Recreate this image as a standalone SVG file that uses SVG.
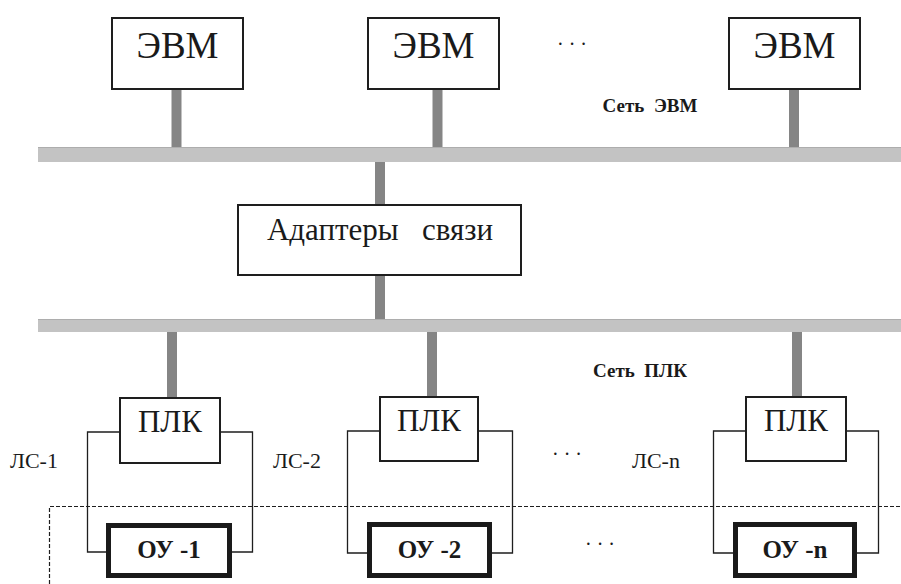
<svg xmlns="http://www.w3.org/2000/svg" width="901" height="584" viewBox="0 0 901 584">
<style>
.box{fill:#fff;stroke:#1e1e1e;stroke-width:2}
.obj{fill:#fff;stroke:#1a1a1a;stroke-width:5}
.bus{fill:#c3c3c3}
.busedge{stroke:#adadad;stroke-width:1}
.stub{stroke:#858585;stroke-width:10}
.wire{fill:none;stroke:#1e1e1e;stroke-width:1.3}
.dash{fill:none;stroke:#1e1e1e;stroke-width:1.2;stroke-dasharray:4 2}
text{fill:#1a1a1a}
.big{font-size:37px}
.mid{font-size:31px}
.lab{font-size:22px}
.bold{font-weight:bold}
.net{font-weight:bold;font-size:19px}
.dots{font-size:20px}
</style>
<g id="buses">
<rect class="bus" x="38" y="147" width="863" height="15"/>
<line class="busedge" x1="38" y1="147.5" x2="901" y2="147.5"/>
<rect class="bus" x="38" y="319" width="863" height="13"/>
<line class="busedge" x1="38" y1="319.5" x2="901" y2="319.5"/>
</g>
<g id="connectors">
<line class="stub" x1="176.5" y1="89" x2="176.5" y2="147"/>
<line class="stub" x1="437.5" y1="89" x2="437.5" y2="147"/>
<line class="stub" x1="794" y1="89" x2="794" y2="147"/>
<line class="stub" x1="380" y1="162" x2="380" y2="205"/>
<line class="stub" x1="380" y1="275" x2="380" y2="319"/>
<line class="stub" x1="172" y1="332" x2="172" y2="398"/>
<line class="stub" x1="432" y1="332" x2="432" y2="397"/>
<line class="stub" x1="797" y1="332" x2="797" y2="397"/>
<polyline class="wire" points="120,432 87.5,432 87.5,552 108,552"/>
<polyline class="wire" points="220,432 252.5,432 252.5,552 230,552"/>
<polyline class="wire" points="380,431 347.5,431 347.5,553 368,553"/>
<polyline class="wire" points="478,431 512.5,431 512.5,553 490,553"/>
<polyline class="wire" points="746,431 713.5,431 713.5,553 734,553"/>
<polyline class="wire" points="846,431 878.5,431 878.5,553 855,553"/>
</g>
<g id="boundary">
<polyline class="dash" points="49.5,584 49.5,506.5 901,506.5"/>
</g>
<g font-family="Liberation Serif, serif">
<g id="evm1"><rect class="box" x="112" y="18" width="131" height="71"/><text class="big" x="177.5" y="58" text-anchor="middle">ЭВМ</text></g>
<g id="evm2"><rect class="box" x="368" y="18" width="131" height="71"/><text class="big" x="433.5" y="58" text-anchor="middle">ЭВМ</text></g>
<g id="evm3"><rect class="box" x="729" y="18" width="131" height="71"/><text class="big" x="794.5" y="58" text-anchor="middle">ЭВМ</text></g>
<text class="dots" x="572" y="51" text-anchor="middle">· · ·</text>
<text class="net" x="650" y="112" text-anchor="middle" xml:space="preserve">Сеть  ЭВМ</text>
<g id="adapter"><rect class="box" x="238" y="205" width="283" height="70"/><text class="mid" x="380" y="240" text-anchor="middle" xml:space="preserve">Адаптеры   связи</text></g>
<text class="net" x="640" y="377" text-anchor="middle" xml:space="preserve">Сеть  ПЛК</text>
<g id="plc1"><rect class="box" x="120" y="398" width="100" height="65"/><text class="mid" x="170" y="432" text-anchor="middle">ПЛК</text></g>
<g id="plc2"><rect class="box" x="380" y="397" width="98" height="64"/><text class="mid" x="429" y="431" text-anchor="middle">ПЛК</text></g>
<g id="plc3"><rect class="box" x="746" y="397" width="100" height="64"/><text class="mid" x="796" y="431" text-anchor="middle">ПЛК</text></g>
<text class="lab" x="10" y="468">ЛС-1</text>
<text class="lab" x="273" y="468">ЛС-2</text>
<text class="lab" x="632" y="468">ЛС-n</text>
<text class="dots" x="567" y="461" text-anchor="middle">· · ·</text>
<text class="dots" x="600" y="551" text-anchor="middle">· · ·</text>
<g id="ou1"><rect class="obj" x="108.5" y="525.5" width="121" height="50"/><text class="bold" x="169" y="558" font-size="25" text-anchor="middle">ОУ -1</text></g>
<g id="ou2"><rect class="obj" x="369.5" y="524.5" width="120" height="51"/><text class="bold" x="429.5" y="558" font-size="25" text-anchor="middle">ОУ -2</text></g>
<g id="ouN"><rect class="obj" x="735.5" y="524.5" width="119" height="51"/><text class="bold" x="795" y="558" font-size="25" text-anchor="middle">ОУ -n</text></g>
</g>
</svg>
